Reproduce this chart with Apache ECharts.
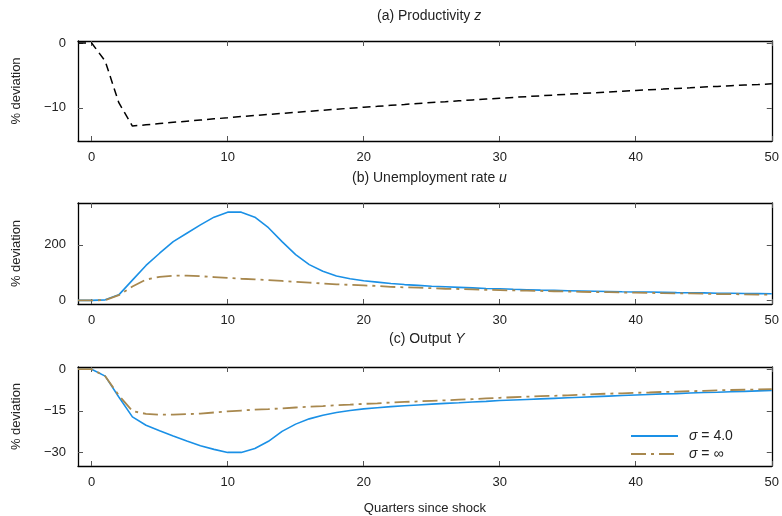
<!DOCTYPE html>
<html>
<head>
<meta charset="utf-8">
<script src="https://cdn.jsdelivr.net/npm/echarts@6/dist/echarts.min.js"></script>
<style>
  html, body { margin: 0; padding: 0; background: #fff; }
  #chart { width: 782px; height: 516px; }
</style>
</head>
<body>
<div id="chart"></div>
<script>
// Quarters after the productivity shock (t = -1 is the pre-shock steady state)
const quarters = [-1, 0, 1, 2, 3, 4, 5, 6, 7, 8, 9, 10, 11, 12, 13, 14, 15, 16, 17, 18, 19, 20,
  21, 22, 23, 24, 25, 26, 27, 28, 29, 30, 31, 32, 33, 34, 35, 36, 37, 38, 39, 40,
  41, 42, 43, 44, 45, 46, 47, 48, 49, 50];

// (a) productivity z, % deviation
const productivity = [0, 0, -2.8, -9.2, -12.8, -12.61, -12.42, -12.23, -12.05, -11.87, -11.69, -11.52,
  -11.34, -11.17, -11.01, -10.84, -10.68, -10.52, -10.36, -10.21, -10.05, -9.90,
  -9.76, -9.61, -9.47, -9.32, -9.18, -9.05, -8.91, -8.78, -8.65, -8.52,
  -8.39, -8.26, -8.14, -8.02, -7.90, -7.78, -7.66, -7.55, -7.43, -7.32,
  -7.21, -7.11, -7.00, -6.90, -6.79, -6.69, -6.59, -6.49, -6.40, -6.30];

// (b) unemployment rate u, % deviation
const unempSigma4 = [0, 0, 2, 20, 73, 126, 170, 212, 242, 272, 300, 318,
  318, 300, 262, 212, 165, 129, 105, 88, 78, 71,
  66, 61, 57, 54, 51, 49, 47, 45, 43, 42,
  40, 38.5, 37, 36, 35, 34, 33, 32, 31, 30.5,
  30, 29, 28, 27.5, 27, 26, 25.5, 25, 24.5, 24];
const unempSigmaInf = [0, 0, 1, 19, 50, 75, 85, 89, 89, 87, 84, 81,
  78, 76, 73, 70, 67, 64, 61, 58, 56, 54,
  52, 49, 47, 46, 44, 42, 41, 40, 38, 37,
  36, 35, 34, 33, 32, 31, 30, 29.5, 28.5, 28,
  27, 26, 25.5, 25, 24, 23, 22.5, 22, 21, 20.5];

// (c) output Y, % deviation
const outputSigma4 = [0, 0, -2.5, -10, -17.2, -20.2, -22.2, -24.1, -25.9, -27.6, -28.9, -30,
  -30, -28.6, -26, -22.4, -19.8, -17.9, -16.6, -15.6, -14.9, -14.3,
  -13.9, -13.5, -13.2, -12.9, -12.6, -12.3, -12.1, -11.8, -11.6, -11.3,
  -11.1, -10.9, -10.7, -10.5, -10.3, -10.1, -9.9, -9.7, -9.5, -9.3,
  -9.1, -8.9, -8.8, -8.6, -8.4, -8.3, -8.1, -8.0, -7.8, -7.7];
const outputSigmaInf = [0, 0, -2.5, -9.4, -15.1, -16.1, -16.4, -16.4, -16.2, -16.0, -15.6, -15.2,
  -14.9, -14.6, -14.4, -14.1, -13.8, -13.5, -13.3, -13.0, -12.8, -12.5,
  -12.3, -12.0, -11.8, -11.6, -11.4, -11.2, -11.0, -10.8, -10.5, -10.3,
  -10.1, -9.9, -9.7, -9.6, -9.4, -9.2, -9.0, -8.8, -8.7, -8.5,
  -8.4, -8.2, -8.1, -7.9, -7.8, -7.6, -7.5, -7.4, -7.3, -7.2];

// Axis ticks
const xTicks = [0, 10, 20, 30, 40, 50];
const yTicksA = [-10, 0];
const yTicksB = [0, 200];
const yTicksC = [-30, -15, 0];

const FONT = '"Liberation Sans", Arial, sans-serif';
const BLUE = '#1a90e6';
const GOLD = '#a8884e';
const pairs = (ys) => quarters.map((q, i) => [q, ys[i]]);
const minus = (v) => String(v).replace('-', '\u2212');

const grids = [
  { left: 78, right: 8, top: 41, height: 100 },
  { left: 78, right: 8, top: 203, height: 101 },
  { left: 78, right: 8, top: 367, height: 99 }
];
const yRanges = [[-15.1, 0.3], [-13, 351], [-34.9, 0.8]];
const yTicks = [yTicksA, yTicksB, yTicksC];

const xAxes = [];
const yAxes = [];
grids.forEach((g, gi) => {
  const tickStyle = { show: true, inside: true, length: 5, lineStyle: { color: '#555', width: 1 } };
  const lineStyle = { show: true, onZero: false, lineStyle: { color: '#000', width: 1.3 } };
  xAxes.push({
    type: 'value', gridIndex: gi, position: 'bottom', min: -1, max: 50,
    axisLine: lineStyle,
    axisTick: Object.assign({ customValues: xTicks }, tickStyle),
    axisLabel: { customValues: xTicks, margin: 10, fontSize: 13, color: '#222', fontFamily: FONT },
    splitLine: { show: false },
    name: gi === 2 ? 'Quarters since shock' : '',
    nameLocation: 'middle', nameGap: 36,
    nameTextStyle: { fontSize: 13, color: '#222', fontFamily: FONT }
  });
  xAxes.push({
    type: 'value', gridIndex: gi, position: 'top', min: -1, max: 50,
    axisLine: lineStyle,
    axisTick: Object.assign({ customValues: xTicks }, tickStyle),
    axisLabel: { show: false },
    splitLine: { show: false }
  });
  yAxes.push({
    type: 'value', gridIndex: gi, position: 'left',
    min: yRanges[gi][0], max: yRanges[gi][1],
    axisLine: lineStyle,
    axisTick: Object.assign({ customValues: yTicks[gi] }, tickStyle),
    axisLabel: { customValues: yTicks[gi], formatter: minus, margin: 12, fontSize: 13, color: '#222', fontFamily: FONT },
    splitLine: { show: false },
    name: '% deviation', nameLocation: 'middle', nameGap: 55,
    nameTextStyle: { fontSize: 13, color: '#222', fontFamily: FONT }
  });
  yAxes.push({
    type: 'value', gridIndex: gi, position: 'right',
    min: yRanges[gi][0], max: yRanges[gi][1],
    axisLine: lineStyle,
    axisTick: Object.assign({ customValues: yTicks[gi] }, tickStyle),
    axisLabel: { show: false },
    splitLine: { show: false }
  });
});

const titleStyle = {
  fontSize: 14, fontWeight: 'normal', color: '#222', fontFamily: FONT,
  rich: { i: { fontSize: 14, fontStyle: 'italic', color: '#222', fontFamily: FONT } }
};

const option = {
  animation: false,
  backgroundColor: '#fff',
  title: [
    { text: '(a) Productivity {i|z}', left: 372, top: 4, textStyle: titleStyle },
    { text: '(b) Unemployment rate {i|u}', left: 347, top: 166, textStyle: titleStyle },
    { text: '(c) Output {i|Y}', left: 384, top: 327, textStyle: titleStyle }
  ],
  grid: grids,
  xAxis: xAxes,
  yAxis: yAxes,
  legend: {
    data: ['\u03c3 = 4.0', '\u03c3 = \u221e'],
    orient: 'vertical', left: 630, top: 429, padding: 0,
    itemWidth: 47, itemHeight: 12, itemGap: 4,
    itemStyle: { opacity: 0 },
    formatter: (name) => name === '\u03c3 = 4.0' ? '{i|\u03c3} = 4.0' : '{i|\u03c3} = \u221e',
    textStyle: {
      fontSize: 14, color: '#222', fontFamily: FONT, padding: [0, 0, 0, 6],
      rich: { i: { fontSize: 14, fontStyle: 'italic', color: '#222', fontFamily: FONT } }
    }
  },
  series: [
    {
      name: 'Productivity', type: 'line', xAxisIndex: 0, yAxisIndex: 0,
      data: pairs(productivity), symbol: 'none',
      lineStyle: { color: '#000', width: 1.5, type: [8, 5] }
    },
    {
      name: '\u03c3 = 4.0', type: 'line', xAxisIndex: 2, yAxisIndex: 2,
      data: pairs(unempSigma4), symbol: 'none', color: BLUE,
      lineStyle: { color: BLUE, width: 1.6 }
    },
    {
      name: '\u03c3 = \u221e', type: 'line', xAxisIndex: 2, yAxisIndex: 2,
      data: pairs(unempSigmaInf), symbol: 'none', color: GOLD,
      lineStyle: { color: GOLD, width: 1.8, type: [15, 5, 3, 5] }
    },
    {
      name: '\u03c3 = 4.0', type: 'line', xAxisIndex: 4, yAxisIndex: 4,
      data: pairs(outputSigma4), symbol: 'none', color: BLUE,
      lineStyle: { color: BLUE, width: 1.6 }
    },
    {
      name: '\u03c3 = \u221e', type: 'line', xAxisIndex: 4, yAxisIndex: 4,
      data: pairs(outputSigmaInf), symbol: 'none', color: GOLD,
      lineStyle: { color: GOLD, width: 1.8, type: [15, 5, 3, 5] }
    }
  ]
};

const chart = echarts.init(document.getElementById('chart'), null, { renderer: 'canvas' });
chart.setOption(option);
</script>
</body>
</html>
